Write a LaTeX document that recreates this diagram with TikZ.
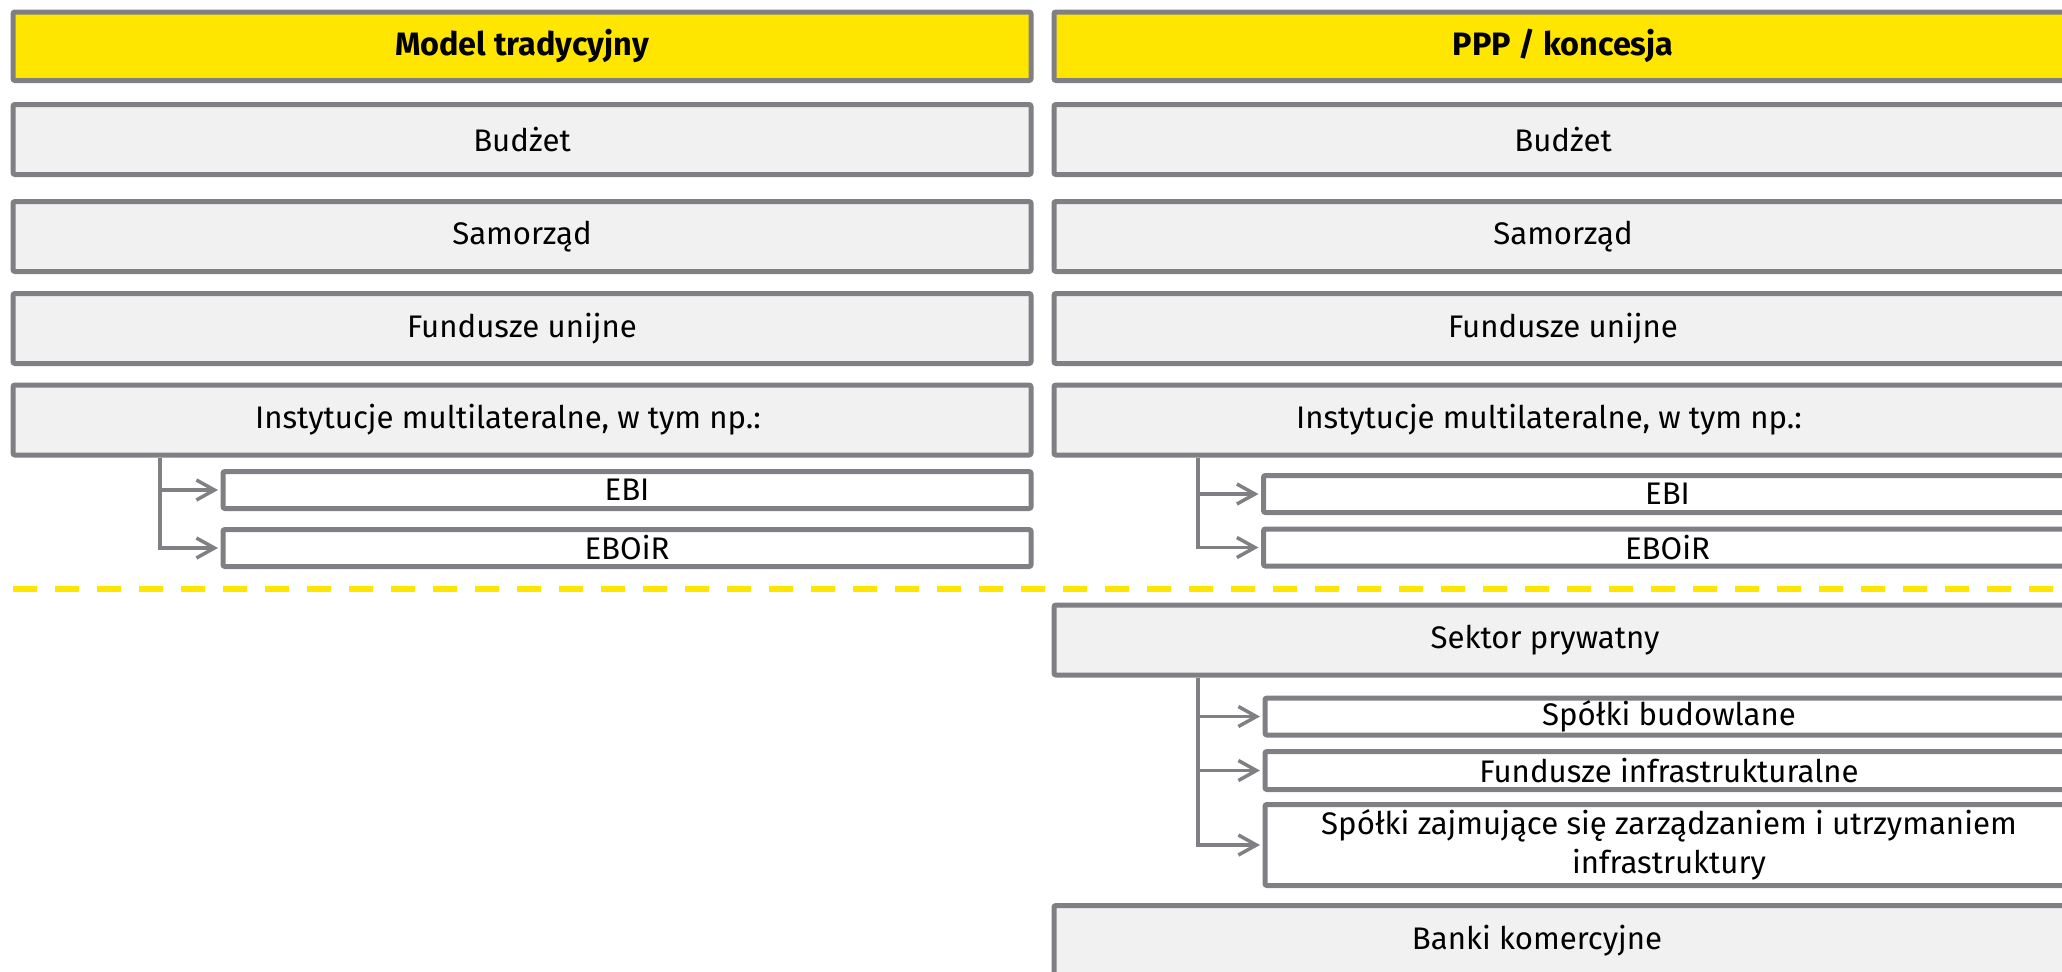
\documentclass[tikz,border=0pt]{standalone}
\usepackage{fontspec}
\setmainfont{Fira Sans}
\usetikzlibrary{arrows.meta}
\definecolor{eygray}{RGB}{128,128,132}
\definecolor{eylight}{RGB}{241,241,241}
\definecolor{eyyellow}{RGB}{255,230,0}
\tikzset{
  basebox/.style={draw=eygray, line width=2.5pt, rounded corners=1pt, inner sep=0pt,
    font=\fontsize{15.6pt}{19.5pt}\selectfont, text=black, align=center},
  headbox/.style={basebox, fill=eyyellow, minimum width=509pt, minimum height=34.25pt, font=\fontsize{16.2pt}{18pt}\selectfont\bfseries},
  mainbox/.style={basebox, fill=eylight, minimum width=509pt, minimum height=35pt},
  subbox/.style={basebox, fill=white, minimum width=404pt, minimum height=18.5pt},
  conn/.style={draw=eygray, line width=1.75pt, -{Straight Barb[length=9pt,width=10pt,line width=1.75pt]}, shorten >=1.25pt},
  sep/.style={draw=eyyellow, line width=3pt, dash pattern=on 12pt off 9pt}
}
\begin{document}
\begin{tikzpicture}[x=0.5pt,y=-0.5pt]
\useasboundingbox (0,0) rectangle (2062,971);
\clip (0,0) rectangle (2062,971);
% left column
\node[headbox] (hL) at (522,46.25) {Model tradycyjny};
\node[mainbox] (bL) at (522,139.5) {Budżet};
\node[mainbox] (sL) at (522,236.5) {Samorząd};
\node[mainbox] (fL) at (522,328.5) {Fundusze unijne};
\node[mainbox] (iL) at (522,420) {Instytucje multilateralne, w tym np.:\kern14pt};
\node[subbox] (ebiL) at (627,490) {EBI};
\node[subbox] (ebrL) at (627,548) {EBOiR};
\coordinate (jL) at (160,0);
\draw[conn] (iL.south -| jL) |- (ebiL.west);
\draw[conn] (iL.south -| jL) |- (ebrL.west);
% right column
\node[headbox] (hR) at (1563,46.25) {PPP / koncesja};
\node[mainbox] (bR) at (1563,139.5) {Budżet};
\node[mainbox] (sR) at (1563,236.5) {Samorząd};
\node[mainbox] (fR) at (1563,328.5) {Fundusze unijne};
\node[mainbox] (iR) at (1563,420) {Instytucje multilateralne, w tym np.:\kern14pt};
\node[subbox] (ebiR) at (1667.5,494) {EBI};
\node[subbox] (ebrR) at (1667.5,547.5) {EBOiR};
\coordinate (jR) at (1198,0);
\draw[conn] (iR.south -| jR) |- (ebiR.west);
\draw[conn] (iR.south -| jR) |- (ebrR.west);
% separator
\coordinate (sepA) at (13,589);
\coordinate (sepB) at (2062,589);
\draw[sep] (sepA) -- (sepB);
% private sector
\node[mainbox] (pR) at (1563,640) {Sektor prywatny\kern18pt};
\node[subbox] (p1) at (1669,716.5) {Spółki budowlane};
\node[subbox, minimum height=19pt] (p2) at (1669,770.5) {Fundusze infrastrukturalne};
\node[subbox, minimum height=40.5pt] (p3) at (1669,845) {Spółki zajmujące się zarządzaniem i utrzymaniem\\infrastruktury};
\coordinate (jP) at (1198,0);
\draw[conn] (pR.south -| jP) |- (p1.west);
\draw[conn] (pR.south -| jP) |- (p2.west);
\draw[conn] (pR.south -| jP) |- (p3.west);
\node[mainbox] (kR) at (1563,940.5) {Banki komercyjne\kern26pt};
\end{tikzpicture}
\end{document}
